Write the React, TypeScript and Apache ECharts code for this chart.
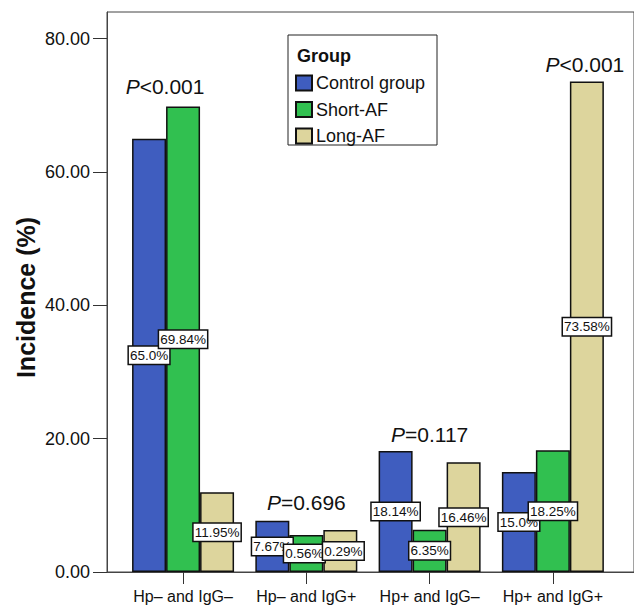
import React, { useEffect, useRef } from "react";
import * as echarts from "echarts";

const categories = ["Hp– and IgG–", "Hp– and IgG+", "Hp+ and IgG–", "Hp+ and IgG+"];
const seriesNames = ["Control group", "Short-AF", "Long-AF"];
const controlValues = [65.0, 7.67, 18.14, 15.0];
const shortValues = [69.84, 5.56, 6.35, 18.25];
const longValues = [11.95, 6.29, 16.46, 73.58];
const controlLabels = ["65.0%", "7.67%", "18.14%", "15.0%"];
const shortLabels = ["69.84%", "0.56%", "6.35%", "18.25%"];
const longLabels = ["11.95%", "0.29%", "16.46%", "73.58%"];
const pOps = ["<", "=", "=", "<"];
const pValues = ["0.001", "0.696", "0.117", "0.001"];
const pLabelLevel = [72.8, 10.5, 20.7, 76.1];
const yTickValues = [0, 20, 40, 60, 80];
const xTickValues = [0, 1, 2, 3];

const FONT = "'Liberation Sans', Arial, Helvetica, sans-serif";
const COLORS = ["#3F5DBF", "#31C050", "#DDD59D"];
const P_OFFSETS = [[-18, 0], [0, 0], [0, 0], [32, 0]];
const LABEL_NUDGE: Record<string, number[]> = { "1-1": [-2, 0], "2-1": [3, 0] };

export default function App() {
  const ref = useRef<HTMLDivElement>(null);

  useEffect(() => {
    if (!ref.current) return;
    const chart = echarts.init(ref.current, undefined, { renderer: "svg" });

    const valueSets = [controlValues, shortValues, longValues];
    const labelSets = [controlLabels, shortLabels, longLabels];

    const barSeries = seriesNames.map((name, s) => ({
      name,
      type: "bar",
      barWidth: 34,
      barGap: "0%",
      data: valueSets[s].map((v, i) => {
        const nudge = LABEL_NUDGE[`${s}-${i}`];
        return nudge ? { value: [i, v], label: { offset: nudge } } : { value: [i, v] };
      }),
      itemStyle: { color: COLORS[s], borderColor: "#111", borderWidth: 1.5 },
      label: {
        show: true,
        position: "inside",
        formatter: (p: any) => labelSets[s][p.dataIndex],
        backgroundColor: "#fff",
        borderColor: "#111",
        borderWidth: 1.5,
        padding: [2, 1, 1, 1],
        fontSize: 13.5,
        lineHeight: 14,
        color: "#111",
        fontFamily: FONT,
      },
    }));

    const pSeries = {
      name: "pvalues",
      type: "scatter",
      symbolSize: 1,
      silent: true,
      itemStyle: { color: "rgba(0,0,0,0)" },
      data: pLabelLevel.map((y, i) => ({
        value: [i, y],
        label: { offset: P_OFFSETS[i] },
      })),
      label: {
        show: true,
        position: "inside",
        opacity: 1,
        color: "#111",
        formatter: (p: any) => `{i|P}{n|${pOps[p.dataIndex]}${pValues[p.dataIndex]}}`,
        rich: {
          i: { fontStyle: "italic", fontSize: 21, fontFamily: FONT, color: "#111" },
          n: { fontSize: 21, fontFamily: FONT, color: "#111" },
        },
      },
    };

    chart.setOption({
      animation: false,
      backgroundColor: "#fff",
      grid: {
        left: 107,
        top: 12,
        right: -10,
        bottom: 40,
        show: true,
        borderColor: "#444",
        borderWidth: 1,
        backgroundColor: "transparent",
      },
      legend: {
        data: seriesNames,
        orient: "vertical",
        left: 295,
        top: 74,
        padding: 0,
        itemWidth: 16,
        itemHeight: 15,
        itemGap: 8.5,
        icon: "rect",
        textStyle: { fontSize: 18, lineHeight: 18, fontFamily: FONT, color: "#111", padding: [0, 0, 0, -1] },
        z: 10,
      },
      xAxis: {
        type: "value",
        min: -0.617,
        max: 3.658,
        splitLine: { show: false },
        axisLine: { show: true, onZero: false, lineStyle: { color: "#444", width: 1 } },
        axisTick: { show: true, customValues: xTickValues, length: 12, lineStyle: { color: "#333" } },
        axisLabel: {
          customValues: xTickValues,
          formatter: (v: number) => categories[Math.round(v)] ?? "",
          fontSize: 16,
          margin: 16,
          color: "#111",
          fontFamily: FONT,
        },
      },
      yAxis: {
        type: "value",
        min: 0,
        max: 84,
        splitLine: { show: false },
        axisLine: { show: true, onZero: false, lineStyle: { color: "#444", width: 1 } },
        axisTick: { show: true, customValues: yTickValues, length: 14, lineStyle: { color: "#333" } },
        axisLabel: {
          customValues: yTickValues,
          formatter: (v: number) => v.toFixed(2),
          fontSize: 18,
          margin: 17,
          color: "#111",
          fontFamily: FONT,
        },
      },
      graphic: [
        {
          type: "text",
          x: 26,
          y: 297.5,
          rotation: Math.PI / 2,
          style: {
            text: "Incidence (%)",
            fontSize: 25,
            fontWeight: "bold",
            fontFamily: FONT,
            fill: "#111",
            align: "center",
            verticalAlign: "middle",
          },
        },
        {
          type: "rect",
          z: 5,
          shape: { x: 288, y: 35, width: 149, height: 110 },
          style: { fill: "#fff", stroke: "#222", lineWidth: 1 },
        },
        {
          type: "text",
          z: 6,
          x: 297,
          y: 56,
          style: {
            text: "Group",
            fontSize: 18,
            fontWeight: "bold",
            fontFamily: FONT,
            fill: "#111",
            align: "left",
            verticalAlign: "middle",
          },
        },
      ],
      series: [...barSeries, pSeries],
    });

    return () => chart.dispose();
  }, []);

  return (
    <div
      ref={ref}
      style={{ position: "fixed", left: 0, top: 0, width: 634, height: 612 }}
    />
  );
}
